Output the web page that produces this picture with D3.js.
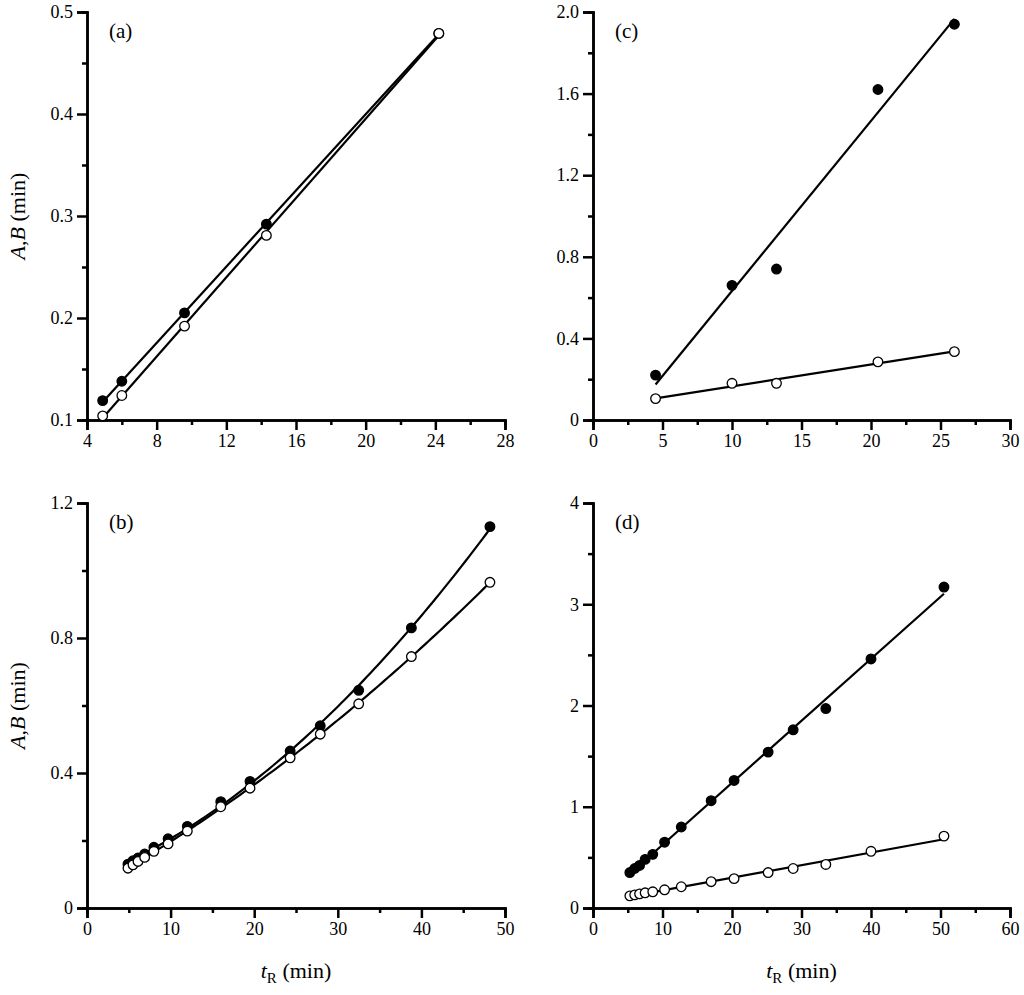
<!DOCTYPE html><html><head><script src="https://cdn.jsdelivr.net/npm/d3@7"></script>
<style>body{margin:0;background:#fff}svg text{font-family:"Liberation Serif","Times New Roman",serif !important}</style></head><body>
<script>
// Panel (a)
const aX=[4.9,6.0,9.6,14.3,24.2];
const aFilled=[0.119,0.138,0.205,0.292,0.479];
const aOpen=[0.104,0.124,0.192,0.281,0.479];
// Panel (b)
const bX=[4.9,5.5,6.1,6.9,8.0,9.7,12.0,16.0,19.5,24.3,27.9,32.5,38.8,48.2];
const bFilled=[0.13,0.14,0.148,0.16,0.18,0.205,0.242,0.315,0.375,0.465,0.54,0.645,0.83,1.13];
const bOpen=[0.118,0.128,0.138,0.15,0.168,0.19,0.228,0.30,0.355,0.445,0.515,0.605,0.745,0.965];
// Panel (c)
const cX=[4.5,10.0,13.2,20.5,26.0];
const cFilled=[0.22,0.66,0.74,1.62,1.94];
const cOpen=[0.105,0.18,0.18,0.285,0.335];
// Panel (d)
const dX=[5.3,6.0,6.7,7.5,8.6,10.3,12.7,17.0,20.3,25.2,28.8,33.5,40.0,50.5];
const dFilled=[0.35,0.39,0.42,0.48,0.53,0.65,0.80,1.06,1.26,1.54,1.76,1.97,2.46,3.17];
const dOpen=[0.12,0.13,0.14,0.15,0.16,0.18,0.21,0.26,0.29,0.35,0.39,0.43,0.56,0.71];
// tick labels
const aXTicks=[4,8,12,16,20,24,28], aYTicks=[0.1,0.2,0.3,0.4,0.5];
const bXTicks=[0,10,20,30,40,50], bYTicks=[0,0.4,0.8,1.2];
const cXTicks=[0,5,10,15,20,25,30], cYTicks=[0,0.4,0.8,1.2,1.6,2.0];
const dXTicks=[0,10,20,30,40,50,60], dYTicks=[0,1,2,3,4];

const W=1024,H=995;
const svg=d3.select("body").append("svg").attr("width",W).attr("height",H);

function linfit(x,y){const n=x.length,mx=d3.mean(x),my=d3.mean(y);let sxy=0,sxx=0;for(let i=0;i<n;i++){sxy+=(x[i]-mx)*(y[i]-my);sxx+=(x[i]-mx)**2;}const b=sxy/sxx;return [my-b*mx,b];}
function quadfit(x,y){
 let S=[[0,0,0],[0,0,0],[0,0,0]],T=[0,0,0];
 for(let i=0;i<x.length;i++){const p=[1,x[i],x[i]*x[i]];for(let r=0;r<3;r++){T[r]+=p[r]*y[i];for(let c=0;c<3;c++)S[r][c]+=p[r]*p[c];}}
 const det=m=>m[0][0]*(m[1][1]*m[2][2]-m[1][2]*m[2][1])-m[0][1]*(m[1][0]*m[2][2]-m[1][2]*m[2][0])+m[0][2]*(m[1][0]*m[2][1]-m[1][1]*m[2][0]);
 const D=det(S);return [0,1,2].map(k=>{const M=S.map((row,r)=>row.map((v,c)=>c===k?T[r]:v));return det(M)/D;});}

function panel(o){
 const g=svg.append("g");
 const x=d3.scaleLinear().domain(o.xd).range([o.x0,o.x1]);
 const y=d3.scaleLinear().domain(o.yd).range([o.y1,o.y0]);
 g.append("g").attr("transform",`translate(0,${o.y1})`).call(d3.axisBottom(x).tickValues(o.xt).tickSize(10).tickPadding(4).tickFormat(o.xf||d3.format("")));
 g.append("g").attr("transform",`translate(${o.x0},0)`).call(d3.axisLeft(y).tickValues(o.yt).tickSize(10).tickPadding(4).tickFormat(o.yf));
 const xm=[];for(let i=0;i<o.xt.length-1;i++)xm.push((o.xt[i]+o.xt[i+1])/2);
 const ym=[];for(let i=0;i<o.yt.length-1;i++)ym.push((o.yt[i]+o.yt[i+1])/2);
 g.append("g").attr("transform",`translate(0,${o.y1})`).call(d3.axisBottom(x).tickValues(xm).tickSize(5).tickFormat(""));
 g.append("g").attr("transform",`translate(${o.x0},0)`).call(d3.axisLeft(y).tickValues(ym).tickSize(5).tickFormat(""));
 g.selectAll("g").attr("font-family","Liberation Serif");
 g.selectAll(".domain").attr("stroke","#000").attr("stroke-width",2.5);
 g.selectAll(".tick line").attr("stroke","#000").attr("stroke-width",2.5);
 g.selectAll(".tick text").attr("font-size",18).attr("fill","#000");
 const line=d3.line().x(d=>x(d[0])).y(d=>y(d[1]));
 o.series.forEach(s=>{
   let pts;
   if(o.quad){const c=quadfit(o.xs,s.v);pts=d3.range(0,101).map(i=>{const t=o.xs[0]+(o.xs[o.xs.length-1]-o.xs[0])*i/100;return [t,c[0]+c[1]*t+c[2]*t*t];});}
   else {const c=linfit(o.xs,s.v);const a=o.xs[0],b=o.xs[o.xs.length-1];pts=[[a,c[0]+c[1]*a],[b,c[0]+c[1]*b]];}
   g.append("path").attr("d",line(pts)).attr("fill","none").attr("stroke","#000").attr("stroke-width",2.2);
 });
 o.series.forEach(s=>{
   g.selectAll(null).data(o.xs.map((v,i)=>[v,s.v[i]])).enter().append("circle")
    .attr("cx",d=>x(d[0])).attr("cy",d=>y(d[1])).attr("r",4.8)
    .attr("fill",s.filled?"#000":"#fff").attr("stroke","#000").attr("stroke-width",1.3);
 });
 g.append("text").attr("x",o.x0+22).attr("y",o.y0+26).attr("font-size",21).text(o.label);
 if(o.ylab){const t=g.append("text").attr("transform",`translate(${o.x0-62},${(o.y0+o.y1)/2}) rotate(-90)`).attr("text-anchor","middle").attr("font-size",22);
   t.append("tspan").attr("font-style","italic").text("A");t.append("tspan").text(",");t.append("tspan").attr("font-style","italic").text("B");t.append("tspan").text(" (min)");}
 if(o.xlab){const t=g.append("text").attr("x",(o.x0+o.x1)/2).attr("y",o.y1+70).attr("text-anchor","middle").attr("font-size",22);
   t.append("tspan").attr("font-style","italic").text("t");t.append("tspan").attr("font-size",15).attr("dy",5).text("R");t.append("tspan").attr("dy",-5).text(" (min)");}
}
const f1=d3.format(".1f");
panel({x0:87,x1:505,y0:12,y1:420,xd:[4,28],yd:[0.1,0.5],xt:aXTicks,yt:aYTicks,yf:f1,xs:aX,series:[{v:aFilled,filled:true},{v:aOpen,filled:false}],label:"(a)",ylab:true});
panel({x0:87,x1:505,y0:503,y1:908,xd:[0,50],yd:[0,1.2],xt:bXTicks,yt:bYTicks,yf:d=>d===0?"0":f1(d),xs:bX,quad:true,series:[{v:bFilled,filled:true},{v:bOpen,filled:false}],label:"(b)",ylab:true,xlab:true});
panel({x0:593,x1:1010,y0:12,y1:420,xd:[0,30],yd:[0,2.0],xt:cXTicks,yt:cYTicks,yf:d=>d===0?"0":f1(d),xs:cX,series:[{v:cFilled,filled:true},{v:cOpen,filled:false}],label:"(c)"});
panel({x0:593,x1:1010,y0:503,y1:908,xd:[0,60],yd:[0,4],xt:dXTicks,yt:dYTicks,yf:d3.format("d"),xs:dX,series:[{v:dFilled,filled:true},{v:dOpen,filled:false}],label:"(d)",xlab:true});
</script></body></html>
